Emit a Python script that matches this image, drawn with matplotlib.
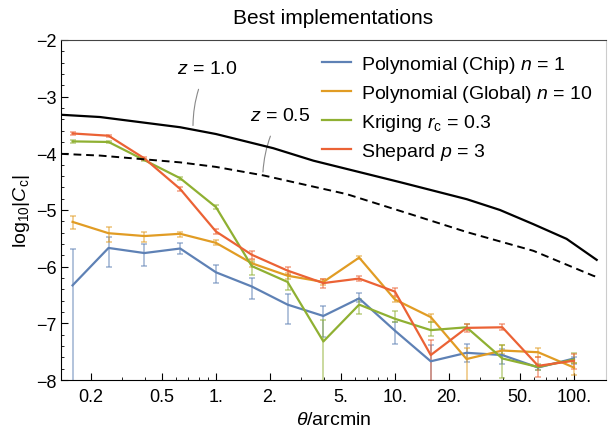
import numpy as np
import matplotlib
matplotlib.use('Agg')
import matplotlib.pyplot as plt
from matplotlib.ticker import FixedLocator, FixedFormatter, LogLocator, MultipleLocator, NullFormatter

plt.rcParams['font.family'] = ['Liberation Sans', 'DejaVu Sans']
plt.rcParams['mathtext.fontset'] = 'custom'
plt.rcParams['mathtext.rm'] = 'Liberation Sans'
plt.rcParams['mathtext.it'] = 'Liberation Sans:italic'

# angular bins (arcmin)
theta = [0.158, 0.251, 0.398, 0.631, 1.0, 1.585, 2.512, 3.981, 6.31, 10.0, 15.85, 25.12, 39.81, 63.1, 100.0]

# log10|Cc| per method, with error bar top / bottom (log units)
chip = [-6.33, -5.67, -5.76, -5.68, -6.10, -6.35, -6.67, -6.87, -6.56, -7.13, -7.67, -7.52, -7.56, -7.78, -7.62]
chip_top = [-5.68, -5.48, -5.60, -5.58, -5.97, -6.20, -6.49, -6.69, -6.47, -6.98, -7.38, -7.37, -7.46, -7.73, -7.59]
chip_bot = [-9.0, -6.01, -5.99, -5.78, -6.29, -6.57, -7.01, -7.25, -6.63, -7.36, -9.0, -7.69, -7.72, -7.82, -7.71]

glob = [-5.21, -5.41, -5.46, -5.42, -5.58, -5.94, -6.16, -6.27, -5.84, -6.58, -6.89, -7.63, -7.48, -7.51, -7.78]
glob_top = [-5.10, -5.30, -5.38, -5.38, -5.53, -5.88, -6.11, -6.22, -5.82, -6.53, -6.84, -7.44, -7.39, -7.44, -7.70]
glob_bot = [-5.34, -5.56, -5.56, -5.47, -5.62, -6.00, -6.22, -6.32, -5.86, -6.63, -6.98, -9.0, -7.54, -7.60, -7.92]

krig = [-3.79, -3.80, -4.12, -4.44, -4.95, -5.99, -6.27, -7.32, -6.67, -6.92, -7.12, -7.07, -7.62, -7.77, -7.64]
krig_top = [-3.77, -3.78, -4.10, -4.41, -4.92, -5.92, -6.15, -6.95, -6.57, -6.78, -6.98, -7.02, -7.39, -7.72, -7.53]
krig_bot = [-3.81, -3.82, -4.14, -4.47, -4.98, -6.15, -6.42, -9.0, -6.83, -6.98, -7.22, -7.12, -7.96, -7.82, -7.70]

shep = [-3.65, -3.69, -4.09, -4.63, -5.38, -5.79, -6.07, -6.29, -6.21, -6.44, -7.56, -7.08, -7.07, -7.75, -7.66]
shep_top = [-3.63, -3.67, -4.07, -4.60, -5.34, -5.73, -6.00, -6.22, -6.16, -6.37, -7.30, -7.02, -7.02, -7.60, -7.54]
shep_bot = [-3.67, -3.71, -4.11, -4.66, -5.42, -5.86, -6.14, -6.38, -6.26, -6.51, -9.0, -7.15, -7.12, -7.95, -7.80]

# theory curves
th_z10 = [0.136, 0.225, 0.63, 1.0, 2.09, 3.50, 10.7, 25.2, 38.6, 59.3, 91.0, 134.0]
c_z10 = [-3.32, -3.36, -3.54, -3.66, -3.91, -4.13, -4.51, -4.81, -5.00, -5.25, -5.51, -5.88]
th_z05 = [0.136, 0.225, 0.63, 1.0, 1.84, 5.37, 12.1, 25.2, 59.3, 128.0, 134.0]
c_z05 = [-4.01, -4.04, -4.16, -4.24, -4.39, -4.72, -5.07, -5.39, -5.72, -6.16, -6.18]

series = [
    ('Polynomial (Chip) $n$ = 1', chip, chip_top, chip_bot, '#5E81B5'),
    ('Polynomial (Global) $n$ = 10', glob, glob_top, glob_bot, '#E19C24'),
    ('Kriging $r_\\mathrm{c}$ = 0.3', krig, krig_top, krig_bot, '#8FB032'),
    ('Shepard $p$ = 3', shep, shep_top, shep_bot, '#EB6235'),
]

fig = plt.figure(figsize=(6.09, 4.31), dpi=100)
ax = fig.add_axes([0.100, 0.116, 0.895, 0.789])

ax.plot(th_z10, c_z10, color='black', lw=1.6, zorder=4)
ax.plot(th_z05, c_z05, color='black', lw=1.4, ls=(0, (4, 2.5)), zorder=4)

for label, y, top, bot, col in series:
    y = np.array(y)
    err = [y - np.array(bot), np.array(top) - y]
    ax.errorbar(theta, y, yerr=err, fmt='none', ecolor=col, alpha=0.6,
                elinewidth=1.1, capsize=2.5, capthick=1.1, zorder=2)
    ax.plot(theta, y, color=col, lw=1.6, label=label, zorder=3)

ax.annotate('$z$ = 1.0', xy=(0.744, -3.51), xytext=(0.891, -2.51),
            ha='center', va='center', fontsize=14,
            arrowprops=dict(arrowstyle='-', color='#888888', lw=0.8, shrinkA=7, shrinkB=0,
                            connectionstyle='arc3,rad=0.12'))
ax.annotate('$z$ = 0.5', xy=(1.83, -4.33), xytext=(2.28, -3.34),
            ha='center', va='center', fontsize=14,
            arrowprops=dict(arrowstyle='-', color='#888888', lw=0.8, shrinkA=7, shrinkB=0,
                            connectionstyle='arc3,rad=0.12'))

ax.set_xscale('log')
ax.set_xlim(0.136, 151)
ax.set_ylim(-8, -2)

xt = [0.2, 0.5, 1, 2, 5, 10, 20, 50, 100]
xt_lab = ['0.2', '0.5', '1.', '2.', '5.', '10.', '20.', '50.', '100.']
ax.xaxis.set_major_locator(FixedLocator(xt))
ax.xaxis.set_major_formatter(FixedFormatter(xt_lab))
ax.xaxis.set_minor_locator(LogLocator(base=10, subs=np.arange(1, 10)))
ax.xaxis.set_minor_formatter(NullFormatter())
ax.yaxis.set_major_locator(FixedLocator([-8, -7, -6, -5, -4, -3, -2]))
ax.yaxis.set_minor_locator(MultipleLocator(0.2))

ax.tick_params(which='both', direction='in', top=False, right=False, labelsize=13)
ax.tick_params(which='major', length=5, width=0.8)
ax.tick_params(which='minor', length=2.5, width=0.6)
ax.tick_params(axis='x', pad=6)
ax.tick_params(axis='y', pad=3)
ax.spines['right'].set_color('#cccccc')
ax.spines['top'].set_color('#444444')

ax.set_xlabel(r'$\theta$/arcmin', fontsize=14, labelpad=4)
ax.set_ylabel(r'$\mathrm{log}_{10}|C_\mathrm{c}|$', fontsize=14, labelpad=3)
ax.set_title('Best implementations', fontsize=15, pad=12)

ax.legend(loc='upper right', bbox_to_anchor=(1.0, 1.0), frameon=False, fontsize=14,
          handlelength=1.5, handletextpad=0.5, labelspacing=0.42, borderaxespad=0.3)

fig.savefig('out.png', dpi=100)
